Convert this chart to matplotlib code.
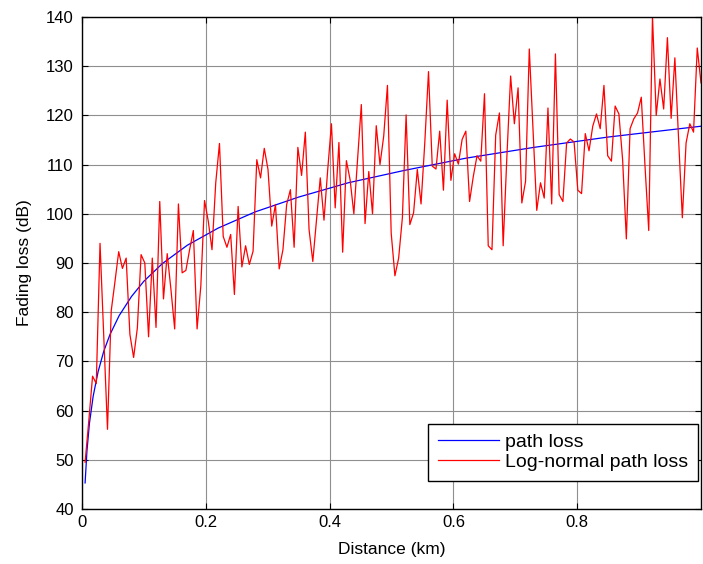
import numpy as np
import matplotlib
matplotlib.use('Agg')
import matplotlib.pyplot as plt

plt.rcParams['font.family'] = ['Liberation Sans', 'DejaVu Sans']

# log-normal samples (166 points from 0.005 to 1 km)
lognormal_db = [
    49.5, 58.0, 67.0, 65.5, 94.0, 75.0, 56.2, 80.3, 86.2, 92.3,
    88.9, 91.0, 75.5, 70.8, 76.8, 91.7, 90.0, 75.0, 91.0, 76.9,
    102.5, 82.7, 91.9, 84.6, 76.6, 102.0, 88.0, 88.5, 92.7, 96.6,
    76.6, 85.3, 102.7, 98.5, 92.7, 106.3, 114.3, 95.4, 93.2, 95.8,
    83.6, 101.5, 89.2, 93.5, 89.7, 92.4, 111.0, 107.3, 113.3, 109.0,
    97.5, 101.9, 88.8, 92.7, 101.9, 104.9, 93.2, 113.5, 107.8, 116.6,
    96.8, 90.3, 98.8, 107.3, 98.7, 109.0, 118.3, 101.2, 114.5, 92.2,
    110.8, 106.9, 100.0, 111.0, 122.2, 98.0, 108.6, 100.0, 117.9, 110.0,
    115.8, 126.1, 96.1, 87.4, 91.0, 99.2, 120.1, 97.8, 100.2, 109.0,
    102.0, 114.4, 128.9, 109.7, 109.1, 116.8, 104.8, 123.1, 106.8, 112.2,
    110.1, 115.1, 116.8, 102.5, 107.6, 111.8, 110.7, 124.4, 93.5, 92.7,
    116.0, 120.5, 93.5, 111.7, 128.0, 118.3, 125.6, 102.2, 106.6, 133.5,
    117.1, 100.7, 106.3, 103.2, 121.5, 102.0, 132.5, 103.9, 102.5, 114.4,
    115.2, 114.6, 104.8, 104.1, 116.3, 112.8, 117.8, 120.3, 117.3, 126.1,
    111.8, 110.7, 121.9, 120.3, 111.0, 94.9, 117.3, 119.3, 120.5, 123.7,
    109.7, 96.6, 140.2, 120.0, 127.4, 121.3, 135.8, 119.4, 131.7, 115.1,
    99.2, 114.4, 118.3, 116.6, 133.7, 126.6,
]
dist_km = np.linspace(0.005, 1.0, len(lognormal_db))

path_d = [0.005, 0.008, 0.012, 0.018, 0.026, 0.035, 0.045, 0.06, 0.08, 0.10, 0.13,
          0.17, 0.22, 0.28, 0.35, 0.43, 0.52, 0.62, 0.73, 0.85, 1.00]
path_db = [45.3, 51.8, 57.4, 62.9, 67.9, 72.0, 75.4, 79.3, 83.2, 86.3, 89.9,
           93.6, 97.1, 100.4, 103.4, 106.3, 108.8, 111.3, 113.5, 115.6, 117.8]

xticks = [0, 0.2, 0.4, 0.6, 0.8]
yticks = list(range(40, 141, 10))

fig = plt.figure(figsize=(7.03, 5.64), dpi=100)
ax = fig.add_axes([82/703, 1 - 509/564, 619/703, 492/564])

ax.plot(path_d, path_db, color='#0000ff', lw=0.9, label='path loss')
ax.plot(dist_km, lognormal_db, color='#ff0000', lw=0.9, label='Log-normal path loss')

ax.set_xlim(0, 1)
ax.set_ylim(40, 140)
ax.set_xticks(xticks)
ax.set_xticklabels(['0', '0.2', '0.4', '0.6', '0.8'])
ax.set_yticks(yticks)
ax.grid(True, color='#8f8f8f', lw=0.8)
ax.set_axisbelow(True)
ax.tick_params(direction='in', top=True, right=True, length=4, width=0.8, labelsize=12)
ax.tick_params(axis='y', pad=6)
ax.tick_params(axis='x', pad=4)
for s in ax.spines.values():
    s.set_linewidth(1.0)

ax.set_xlabel('Distance (km)', fontsize=12.5, labelpad=9)
ax.set_ylabel('Fading loss (dB)', fontsize=12.5, labelpad=10)

leg = ax.legend(loc='lower right', bbox_to_anchor=(0.995, 0.057), borderaxespad=0,
                fontsize=14, handlelength=3.15, handletextpad=0.3, labelspacing=0.12,
                borderpad=0.5, fancybox=False, framealpha=1, edgecolor='black')
leg.get_frame().set_linewidth(1.0)

fig.savefig('out.png', dpi=100)
